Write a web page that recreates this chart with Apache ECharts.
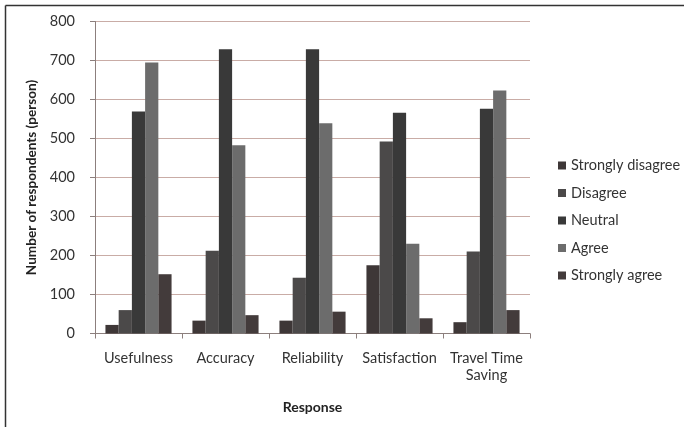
<!DOCTYPE html>
<html>
<head>
<meta charset="utf-8">
<script src="https://cdn.jsdelivr.net/npm/echarts@6/dist/echarts.min.js"></script>
<style>
  html, body { margin: 0; padding: 0; background: #ffffff; }
  #chart { width: 684px; height: 427px; }
</style>
</head>
<body>
<div id="chart"></div>
<script>
// Survey responses per aspect of the travel information service
const categories = ['Usefulness', 'Accuracy', 'Reliability', 'Satisfaction', 'Travel Time\nSaving'];
const stronglyDisagree = [22, 33, 33, 175, 29];
const disagree = [60, 212, 143, 492, 210];
const neutral = [569, 729, 729, 566, 576];
const agree = [695, 483, 539, 230, 623];
const stronglyAgree = [152, 47, 56, 39, 60];
const yTicks = [0, 100, 200, 300, 400, 500, 600, 700, 800];

const seriesDefs = [
  { name: 'Strongly disagree', data: stronglyDisagree, color: '#3e3737' },
  { name: 'Disagree', data: disagree, color: '#4b4949' },
  { name: 'Neutral', data: neutral, color: '#393939' },
  { name: 'Agree', data: agree, color: '#6c6c6c' },
  { name: 'Strongly agree', data: stronglyAgree, color: '#433b3b' }
];

const font = 'Lato, "Open Sans", sans-serif';
const chart = echarts.init(document.getElementById('chart'), null, { renderer: 'canvas' });

chart.setOption({
  animation: false,
  backgroundColor: '#ffffff',
  textStyle: { fontFamily: font },
  graphic: [
    { type: 'line', shape: { x1: 5.5, y1: 5.5, x2: 684, y2: 5.5 }, style: { stroke: '#333', lineWidth: 1.5 } },
    { type: 'line', shape: { x1: 5.5, y1: 5.5, x2: 5.5, y2: 427 }, style: { stroke: '#333', lineWidth: 1.5 } }
  ],
  grid: { left: 95, right: 154, top: 21.5, bottom: 93.5 },
  legend: {
    orient: 'vertical',
    left: 553,
    top: 153,
    itemWidth: 8,
    itemHeight: 8,
    itemGap: 12.5,
    icon: 'rect',
    textStyle: { fontFamily: font, fontSize: 14.5, color: '#333', lineHeight: 15 },
    data: seriesDefs.map(s => s.name)
  },
  xAxis: {
    type: 'category',
    data: categories,
    name: 'Response',
    nameLocation: 'middle',
    nameGap: 67,
    nameTextStyle: { fontFamily: font, fontSize: 14, fontWeight: 'bold', color: '#222' },
    axisLine: { lineStyle: { color: '#8c7f7d', width: 1 } },
    axisTick: { show: true, length: 5, lineStyle: { color: '#8c7f7d' } },
    axisLabel: {
      interval: 0,
      hideOverlap: false,
      fontFamily: font, fontSize: 14.5, color: '#333', margin: 16, lineHeight: 17
    }
  },
  yAxis: {
    type: 'value',
    min: yTicks[0],
    max: yTicks[yTicks.length - 1],
    interval: 100,
    name: 'Number of respondents (person)',
    nameLocation: 'middle',
    nameGap: 51,
    nameRotate: 90,
    nameTextStyle: { fontFamily: font, fontSize: 13.6, fontWeight: 'bold', color: '#222' },
    axisLine: { show: true, lineStyle: { color: '#8c7f7d', width: 1 } },
    axisTick: { show: true, length: 5, inside: false, lineStyle: { color: '#8c7f7d' } },
    axisLabel: { fontFamily: font, fontSize: 14.5, color: '#333', margin: 20 },
    splitLine: { lineStyle: { color: '#c9aca6', width: 1 } }
  },
  series: seriesDefs.map(s => ({
    name: s.name,
    type: 'bar',
    data: s.data,
    barGap: '0%',
    barCategoryGap: '24%',
    itemStyle: { color: s.color }
  }))
});
</script>
</body>
</html>
